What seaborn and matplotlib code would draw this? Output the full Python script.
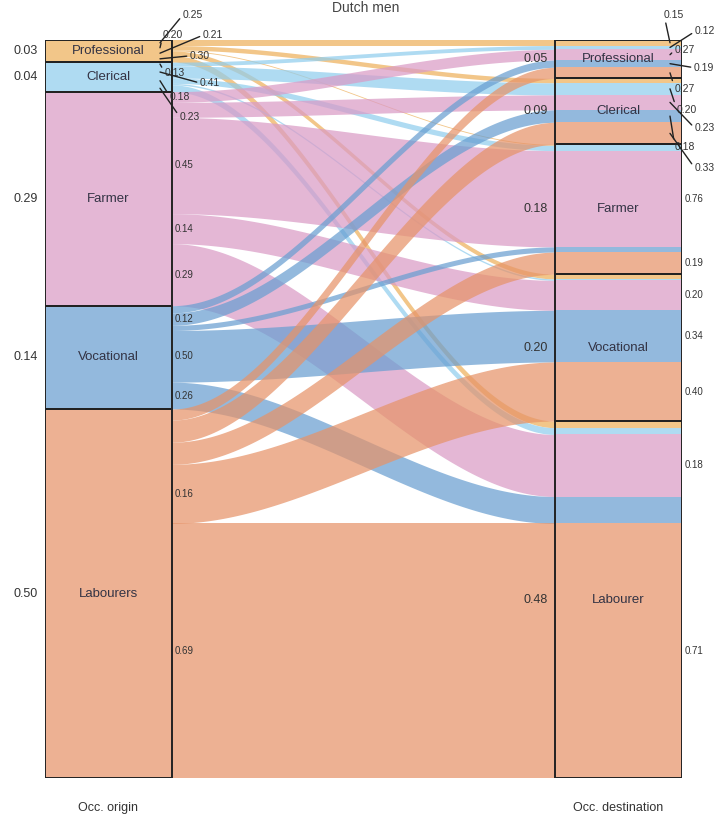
import numpy as np
import matplotlib
matplotlib.use("Agg")
import matplotlib.pyplot as plt
import seaborn as sns
from matplotlib.colors import to_rgb

# ---------------- data ----------------
origin_cats = ["Professional", "Clerical", "Farmer", "Vocational", "Labourers"]
dest_cats = ["Professional", "Clerical", "Farmer", "Vocational", "Labourer"]
origin_size = [0.03, 0.04, 0.29, 0.14, 0.50]
dest_size_labels = ["0.05", "0.09", "0.18", "0.20", "0.48"]

# out-flow shares of each origin, columns follow dest_cats
flow_professional = [0.25, 0.20, 0.04, 0.21, 0.30]
flow_clerical = [0.13, 0.41, 0.18, 0.05, 0.23]
flow_farmer = [0.05, 0.07, 0.45, 0.14, 0.29]
flow_vocational = [0.07, 0.12, 0.05, 0.50, 0.26]
flow_labourers = [0.03, 0.06, 0.06, 0.16, 0.69]

# in-flow shares printed on the destination side, columns follow origin_cats
in_professional = ["0.15", "0.12", "0.27", "0.19", "0.27"]
in_clerical = ["", "0.20", "0.23", "0.18", "0.33"]
in_farmer = ["", "", "0.76", "", "0.19"]
in_vocational = ["", "", "0.20", "0.34", "0.40"]
in_labourer = ["", "", "0.18", "", "0.71"]

title = "Dutch men"
axis_labels = ["Occ. origin", "Occ. destination"]

# ---------------- style ----------------
sns.set_theme(style="white")
plt.rcParams["font.family"] = ["Liberation Sans", "DejaVu Sans"]

seen_colors = ["#F2C68A", "#B0DBF2", "#E4B7D6", "#93BADE", "#EDB193"]
ALPHA = 0.72
# base colours such that one layer over white gives the seen colour
base_colors = sns.color_palette(
    [tuple(1 - (1 - c) / ALPHA for c in to_rgb(s)) for s in seen_colors])
base_colors = [tuple(min(1, max(0, v)) for v in c) for c in base_colors]

flows_share = np.array([flow_professional, flow_clerical, flow_farmer,
                        flow_vocational, flow_labourers])
in_labels = [in_professional, in_clerical, in_farmer, in_vocational, in_labourer]
osize = np.array(origin_size)
A = flows_share * osize[:, None]          # absolute flows
dsize = A.sum(axis=0)

n = len(origin_cats)
o_top = np.concatenate([[0], np.cumsum(osize)[:-1]])
d_top = np.concatenate([[0], np.cumsum(dsize)[:-1]])
# offsets inside strata
o_off = o_top[:, None] + np.concatenate([np.zeros((n, 1)), np.cumsum(A, axis=1)[:, :-1]], axis=1)
d_off = d_top[None, :] + np.concatenate([np.zeros((1, n)), np.cumsum(A, axis=0)[:-1, :]], axis=0)

W, H = 717, 821
fig = plt.figure(figsize=(W / 100, H / 100), dpi=100)
hw = 127 / 510 / 2
ax = fig.add_axes([45 / W, 43 / H, 637 / W, 738 / H])
ax.set_xlim(-hw, 1 + hw)
ax.set_ylim(1, 0)
ax.axis("off")

# ---------------- flows ----------------
t = np.linspace(0, 1, 120)
s = 3 * t ** 2 - 2 * t ** 3
xs = hw + (1 - 2 * hw) * t
for i in range(n):
    for j in range(n):
        a = A[i, j]
        if a <= 0:
            continue
        y0 = o_off[i, j]
        y1 = d_off[i, j]
        top = y0 + (y1 - y0) * s
        ax.fill_between(xs, top, top + a, color=base_colors[i], alpha=ALPHA, lw=0)

# ---------------- origin strata ----------------
ax.bar(np.zeros(n), osize, bottom=o_top, width=2 * hw, color=base_colors,
       alpha=ALPHA, linewidth=0)
ax.bar(np.zeros(n), osize, bottom=o_top, width=2 * hw, facecolor="none",
       edgecolor="#222222", linewidth=1.4)

# ---------------- destination strata (striped by origin) ----------------
for i in range(n):
    ax.bar(np.ones(n), A[i], bottom=d_off[i], width=2 * hw, color=base_colors[i],
           alpha=ALPHA, linewidth=0)
ax.bar(np.ones(n), dsize, bottom=d_top, width=2 * hw, facecolor="none",
       edgecolor="#222222", linewidth=1.4)

# ---------------- stratum labels ----------------
for k in range(n):
    yc = o_top[k] + osize[k] / 2
    ax.text(0, yc, origin_cats[k], ha="center", va="center", fontsize=9.5, color="#333344")
    ax.text(-hw - 0.014, yc, f"{origin_size[k]:.2f}", ha="right", va="center",
            fontsize=9, color="#333333")
    yc = d_top[k] + dsize[k] / 2
    ax.text(1, yc, dest_cats[k], ha="center", va="center", fontsize=9.5, color="#333344")
    ax.text(1 - hw - 0.014, yc, dest_size_labels[k], ha="right", va="center",
            fontsize=9, color="#333333")

# ---------------- flow share labels ----------------
px = 0.72  # points per pixel
# repelled label offsets (pixels) for small strata
left_rep = {(0, 0): (23, -28), (0, 1): (3, -13), (0, 3): (43, -18), (0, 4): (30, -3),
            (1, 0): (5, 9), (1, 1): (40, 11), (1, 2): (10, 16), (1, 4): (20, 29)}
right_rep = {(0, 0): (-6, -28), (1, 0): (25, -16), (2, 0): (5, -5), (3, 0): (24, 4),
             (4, 0): (5, 16), (1, 1): (7, 21), (2, 1): (25, 26), (3, 1): (5, 31),
             (4, 1): (25, 35)}
inset = 12 / 510
for i in range(n):
    for j in range(n):
        v = flows_share[i, j]
        ym = o_off[i, j] + A[i, j] / 2
        if (i, j) in left_rep:
            dx, dy = left_rep[(i, j)]
            ax.annotate(f"{v:.2f}", xy=(hw - inset, ym), xytext=(dx * px, -dy * px),
                        textcoords="offset points", ha="left", va="center", fontsize=7.5,
                        color="#333333", annotation_clip=False,
                        arrowprops=dict(arrowstyle="-", lw=1.0, color="#222222",
                                        shrinkA=0, shrinkB=0, relpos=(0, 0.5)))
        elif v >= 0.1:
            ax.text(hw + 0.006, ym, f"{v:.2f}", ha="left", va="center", fontsize=7,
                    color="#333333")
        lab = in_labels[j][i]
        ym = d_off[i, j] + A[i, j] / 2
        if (i, j) in right_rep:
            dx, dy = right_rep[(i, j)]
            ax.annotate(lab, xy=(1 + hw - inset, ym), xytext=(dx * px, -dy * px),
                        textcoords="offset points", ha="left", va="center", fontsize=7.5,
                        color="#333333", annotation_clip=False,
                        arrowprops=dict(arrowstyle="-", lw=1.0, color="#222222",
                                        shrinkA=0, shrinkB=0, relpos=(0, 0.5)))
        elif lab:
            ax.text(1 + hw + 0.006, ym, lab, ha="left", va="center", fontsize=7,
                    color="#333333")

# ---------------- axis labels & title ----------------
ax.text(0, 1.0407, axis_labels[0], ha="center", va="center", fontsize=9, color="#333333")
ax.text(1, 1.0407, axis_labels[1], ha="center", va="center", fontsize=9, color="#333333")
fig.text(0.51, 1 - 1 / H, title, ha="center", va="top", fontsize=10, color="#444444")

fig.savefig("out.png", dpi=100)
